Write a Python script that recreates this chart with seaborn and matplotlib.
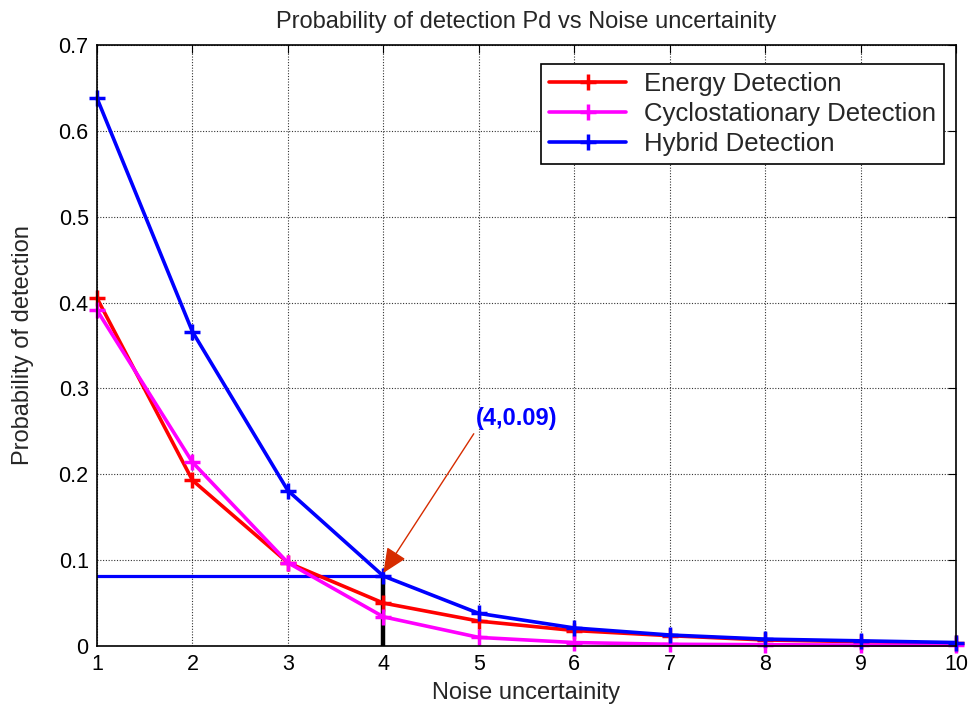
import numpy as np
import pandas as pd
import matplotlib
matplotlib.use("Agg")
import matplotlib.pyplot as plt
import seaborn as sns

noise = [1, 2, 3, 4, 5, 6, 7, 8, 9, 10]
energy = [0.405, 0.193, 0.097, 0.050, 0.029, 0.018, 0.012, 0.007, 0.005, 0.003]
cyclo = [0.391, 0.214, 0.097, 0.034, 0.010, 0.004, 0.002, 0.0015, 0.001, 0.001]
hybrid = [0.638, 0.366, 0.181, 0.0815, 0.038, 0.021, 0.0128, 0.008, 0.006, 0.004]
series_names = ["Energy Detection", "Cyclostationary Detection", "Hybrid Detection"]
colors = ["#ff0000", "#ff00ff", "#0000ff"]
marker_level = 0.081
annot_xy = (4, 0.085)
annot_text_xy = (4.97, 0.251)
annot_label = "(4,0.09)"

sns.set_style("white")
plt.rcParams['font.family'] = ['Liberation Sans', 'DejaVu Sans']

df = pd.DataFrame({"x": noise * 3,
                   "y": energy + cyclo + hybrid,
                   "s": sum([[n] * len(noise) for n in series_names], [])})

fig = plt.figure(figsize=(9.73, 7.07), dpi=100)
ax = fig.add_axes([0.0997, 0.0863, 0.8828, 0.8501])

sns.lineplot(data=df, x="x", y="y", hue="s", palette=colors, hue_order=series_names,
             marker="+", markersize=11, markeredgewidth=2.5, linewidth=2.6,
             ax=ax, sort=False, estimator=None)
for ln in ax.lines:
    ln.set_markeredgecolor(ln.get_color())
    ln.set_clip_on(False)

ax.plot([1, 4], [marker_level, marker_level], color="#0000ff", linewidth=2.3, zorder=1.5)
ax.plot([4, 4], [0, marker_level], color="black", linewidth=3.2, zorder=1.5)

ax.annotate(annot_label, xy=annot_xy, xytext=annot_text_xy,
            color="#0000ff", fontsize=17, fontweight="bold", ha="left", va="bottom",
            arrowprops=dict(arrowstyle="-|>,head_length=0.9,head_width=0.4",
                            color="#d62c00", lw=1, shrinkA=0, shrinkB=0,
                            relpos=(0, 0)))

ax.set_xlim(1, 10)
ax.set_ylim(0, 0.7)
ax.set_xticks(range(1, 11))
ax.set_yticks(np.arange(0, 0.71, 0.1))
ax.set_yticklabels(["0", "0.1", "0.2", "0.3", "0.4", "0.5", "0.6", "0.7"])
ax.tick_params(direction="in", labelsize=15.5, length=6, top=True, right=True,
               colors="black", pad=6)
ax.grid(True, color="black", linestyle=(0, (1, 1.5)), linewidth=0.8, alpha=0.8)
for sp in ax.spines.values():
    sp.set_color("black")
    sp.set_linewidth(1.2)

ax.set_xlabel("Noise uncertainity", fontsize=17, labelpad=5)
ax.set_ylabel("Probability of detection", fontsize=17, labelpad=18)
ax.set_title("Probability of detection Pd vs Noise uncertainity", fontsize=17, pad=12)

leg = ax.legend(loc="upper right", bbox_to_anchor=(1.001, 0.99), fontsize=18.5,
                frameon=True, fancybox=False, edgecolor="black", framealpha=1,
                handlelength=3.0, borderpad=0.3, labelspacing=0.25, handletextpad=0.7)
leg.get_frame().set_linewidth(1.2)
for h in leg.legend_handles:
    h.set_markeredgecolor(h.get_color())

fig.savefig("out.png", dpi=100, facecolor="white")
